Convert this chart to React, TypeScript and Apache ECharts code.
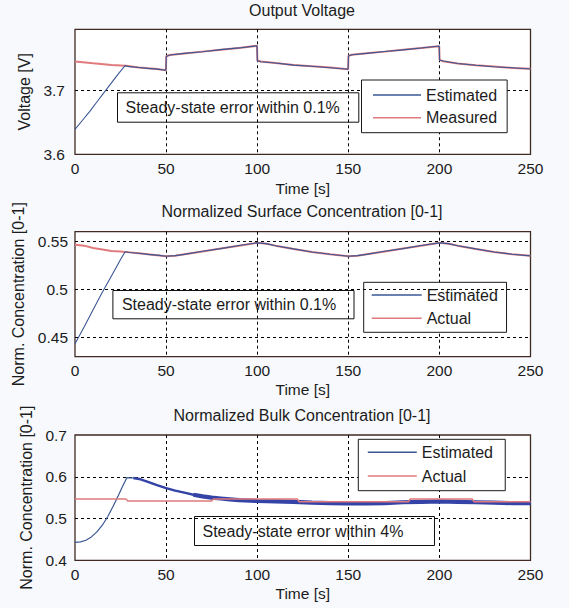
import React, { useEffect, useRef } from 'react';
import * as echarts from 'echarts';

// ---------- data ----------
const timeTicks = [0, 50, 100, 150, 200, 250];

const voltageTicks = [3.6, 3.7];
const surfaceTicks = [0.45, 0.5, 0.55];
const bulkTicks = [0.4, 0.5, 0.6, 0.7];

const voltageMeasured: [number, number][] = [
  [0, 3.7455], [10, 3.7428], [20, 3.7402], [28, 3.7388], [35, 3.7362], [40, 3.7350], [45, 3.7336], [49.9, 3.7318],
  [50.1, 3.7538], [52, 3.7556], [60, 3.7580], [70, 3.7610], [80, 3.7640], [90, 3.7668], [99.9, 3.7702],
  [100.1, 3.7470], [102, 3.7455], [110, 3.7430], [120, 3.7400], [130, 3.7380], [140, 3.7360], [149.9, 3.7335],
  [150.1, 3.7545], [152, 3.7560], [160, 3.7585], [170, 3.7610], [180, 3.7640], [190, 3.7665], [199.9, 3.7695],
  [200.1, 3.7480], [202, 3.7460], [210, 3.7425], [220, 3.7395], [230, 3.7375], [240, 3.7355], [250, 3.7340],
];

const voltageEstimated: [number, number][] = [
  [0, 3.639], [4, 3.653], [8, 3.667], [12, 3.682], [16, 3.697], [20, 3.712], [24, 3.727], [27.5, 3.739],
  [30, 3.7374], [35, 3.7362], [40, 3.7348], [45, 3.7336], [49.9, 3.7318],
  [50.1, 3.7535], [52, 3.7557], [60, 3.7582], [70, 3.7608], [80, 3.7641], [90, 3.7668], [99.9, 3.7702],
  [100.1, 3.7468], [102, 3.7452], [110, 3.7432], [120, 3.7398], [130, 3.7381], [140, 3.7358], [149.9, 3.7334],
  [150.1, 3.7543], [152, 3.7562], [160, 3.7583], [170, 3.7612], [180, 3.7638], [190, 3.7667], [199.9, 3.7697],
  [200.1, 3.7478], [202, 3.7462], [210, 3.7423], [220, 3.7397], [230, 3.7373], [240, 3.7356], [250, 3.7338],
];

const surfaceActual: [number, number][] = [
  [0, 0.5465], [5, 0.5455], [10, 0.5430], [15, 0.5415], [20, 0.5400], [25, 0.5395], [30, 0.5385], [35, 0.5375],
  [40, 0.5365], [45, 0.5355], [50, 0.5345], [55, 0.5350], [60, 0.5365], [70, 0.5395], [80, 0.5425], [90, 0.5455],
  [100, 0.5485], [105, 0.5475], [110, 0.5455], [120, 0.5420], [130, 0.5390], [140, 0.5365], [150, 0.5345],
  [155, 0.5350], [160, 0.5365], [170, 0.5395], [180, 0.5425], [190, 0.5455], [200, 0.5485], [205, 0.5475],
  [210, 0.5455], [220, 0.5420], [230, 0.5390], [240, 0.5365], [250, 0.5350],
];

const surfaceEstimated: [number, number][] = [
  [0, 0.4435], [5, 0.461], [10, 0.479], [15, 0.497], [20, 0.514], [25, 0.531], [27.5, 0.5392],
  [30, 0.5384], [35, 0.5376], [40, 0.5364], [45, 0.5356], [50, 0.5344], [55, 0.5351], [60, 0.5364],
  [70, 0.5396], [80, 0.5424], [90, 0.5456], [100, 0.5484], [105, 0.5476], [110, 0.5454], [120, 0.5421],
  [130, 0.5389], [140, 0.5366], [150, 0.5344], [155, 0.5351], [160, 0.5364], [170, 0.5396], [180, 0.5424],
  [190, 0.5456], [200, 0.5484], [205, 0.5476], [210, 0.5454], [220, 0.5421], [230, 0.5389], [240, 0.5366],
  [250, 0.5349],
];

const bulkActual: [number, number][] = [
  [0, 0.547], [28, 0.547], [29, 0.542], [75, 0.542], [76, 0.547], [122, 0.547], [123, 0.540],
  [183, 0.540], [184, 0.547], [218, 0.547], [219, 0.540], [250, 0.540],
];

const bulkEstimated: [number, number][] = [
  [0, 0.443], [3, 0.444], [6, 0.448], [9, 0.456], [12, 0.468], [15, 0.484], [18, 0.505], [21, 0.530],
  [24, 0.557], [26, 0.576], [28.5, 0.598], [32, 0.597], [36, 0.594], [40, 0.588], [45, 0.580], [50, 0.573],
  [55, 0.567], [60, 0.562], [65, 0.557], [70, 0.553], [75, 0.550], [80, 0.548], [85, 0.546], [90, 0.544],
  [100, 0.542], [110, 0.541], [120, 0.540], [130, 0.538], [140, 0.537], [150, 0.536], [160, 0.536],
  [170, 0.537], [180, 0.539], [190, 0.540], [200, 0.541], [210, 0.540], [220, 0.539], [230, 0.538],
  [240, 0.537], [250, 0.537],
];

// ---------- styling ----------
const FONT = '"Liberation Sans", Arial, Helvetica, sans-serif';
const TXT = '#1c1c1c';
const BLUE = '#3a5794';
const BAND = '#3443a6';
const PINK = '#e07a7c';
const BORDER = '#3f2a24';

const grids = [
  { left: 75, top: 29.3, width: 455.5, height: 125 },
  { left: 75, top: 231.7, width: 455.5, height: 125 },
  { left: 75, top: 435, width: 455.5, height: 125.3 },
];

const labelOnly = (vals: number[]) => (v: number) => {
  const m = vals.find((x) => Math.abs(x - v) < 1e-6);
  return m === undefined ? '' : String(m);
};

export default function App() {
  const ref = useRef<HTMLDivElement>(null);

  useEffect(() => {
    document.body.style.margin = '0';
    document.body.style.background = '#f7f9fc';
    if (!ref.current) return;
    const chart = echarts.init(ref.current, undefined, { renderer: 'svg' });

    const xAxis = (gi: number) => ({
      type: 'value',
      gridIndex: gi,
      min: timeTicks[0],
      max: timeTicks[timeTicks.length - 1],
      interval: 50,
      name: 'Time [s]',
      nameLocation: 'middle',
      nameGap: gi === 0 ? 26 : 25,
      nameTextStyle: { fontSize: 15.5, color: TXT, fontFamily: FONT },
      axisLine: { show: false },
      axisTick: { show: false },
      axisLabel: { margin: 6, fontSize: 15.5, color: TXT, fontFamily: FONT },
      splitLine: {
        show: true,
        showMinLine: false,
        showMaxLine: false,
        lineStyle: { color: '#000', type: [3, 3], width: 1 },
      },
    });

    const yName = { fontSize: 16, color: TXT, fontFamily: FONT };
    const titleStyle = { fontSize: 16, fontWeight: 'normal', color: TXT, fontFamily: FONT, lineHeight: 16 };
    const legendBase = {
      orient: 'vertical', icon: 'rect', itemHeight: 1.6, selectedMode: false,
      borderColor: '#1a1a1a', borderWidth: 1, backgroundColor: '#fff',
      textStyle: { fontSize: 16, color: TXT, fontFamily: FONT, lineHeight: 16 },
    };

    const option: any = {
      animation: false,
      backgroundColor: '#f7f9fc',
      title: [
        { text: 'Output Voltage', left: 302, top: 2, textAlign: 'center', padding: 0, textStyle: titleStyle },
        { text: 'Normalized Surface Concentration [0-1]', left: 302, top: 203.5, textAlign: 'center', padding: 0, textStyle: titleStyle },
        { text: 'Normalized Bulk Concentration [0-1]', left: 302, top: 407, textAlign: 'center', padding: 0, textStyle: titleStyle },
      ],
      grid: grids.map((g) => ({
        ...g,
        show: true,
        backgroundColor: '#ffffff',
        borderColor: BORDER,
        borderWidth: 1.3,
        containLabel: false,
      })),
      xAxis: [xAxis(0), xAxis(1), xAxis(2)],
      yAxis: [
        {
          type: 'value', gridIndex: 0, min: 3.6, max: 3.796, interval: 0.1,
          name: 'Voltage [V]', nameLocation: 'middle', nameGap: 38.5, nameRotate: 90, nameTextStyle: yName,
          axisLine: { show: false }, axisTick: { show: false },
          axisLabel: { margin: 10, fontSize: 15.5, color: TXT, fontFamily: FONT, formatter: labelOnly(voltageTicks) },
          splitLine: { show: true, showMinLine: false, showMaxLine: false, lineStyle: { color: '#000', type: [3, 3], width: 1 } },
        },
        {
          type: 'value', gridIndex: 1, min: 0.43, max: 0.56, interval: 0.01,
          name: 'Norm. Concentration [0-1]', nameLocation: 'middle', nameGap: 46, nameRotate: 90, nameTextStyle: yName,
          axisLine: { show: false }, axisTick: { show: false },
          axisLabel: { margin: 7, fontSize: 15.5, color: TXT, fontFamily: FONT, formatter: labelOnly(surfaceTicks) },
          splitLine: { show: false },
        },
        {
          type: 'value', gridIndex: 2, min: 0.4, max: 0.7, interval: 0.1,
          name: 'Norm. Concentration [0-1]', nameLocation: 'middle', nameGap: 40, nameRotate: 90, nameTextStyle: yName,
          axisLine: { show: false }, axisTick: { show: false },
          axisLabel: { margin: 8, fontSize: 15.5, color: TXT, fontFamily: FONT, formatter: labelOnly(bulkTicks) },
          splitLine: { show: true, showMinLine: false, showMaxLine: false, lineStyle: { color: '#000', type: [3, 3], width: 1 } },
        },
      ],
      legend: [
        { ...legendBase, data: ['Estimated', 'Measured'], left: 361.5, top: 80,
          itemWidth: 48, itemGap: 6.7, padding: [7, 10, 7, 11.5] },
        { ...legendBase, data: ['Estimated', 'Actual'], left: 363.7, top: 282.3,
          itemWidth: 50, itemGap: 7.3, padding: [4.7, 8.7, 6, 8] },
        { ...legendBase, data: ['Estimated', 'Actual'], left: 358.3, top: 439.3,
          itemWidth: 49, itemGap: 7.7, padding: [5, 12.3, 6.7, 9.5] },
      ],
      series: [
        // plot 1
        { name: 'Measured', type: 'line', xAxisIndex: 0, yAxisIndex: 0, data: voltageMeasured, symbol: 'none',
          lineStyle: { color: PINK, width: 2 }, itemStyle: { color: PINK }, z: 2 },
        { name: 'Estimated', type: 'line', xAxisIndex: 0, yAxisIndex: 0, data: voltageEstimated, symbol: 'none',
          lineStyle: { color: BLUE, width: 1.1 }, itemStyle: { color: BLUE }, z: 3 },
        // plot 2
        { name: 'Actual', type: 'line', xAxisIndex: 1, yAxisIndex: 1, data: surfaceActual, symbol: 'none',
          lineStyle: { color: PINK, width: 2 }, itemStyle: { color: PINK }, z: 2,
          markLine: {
            silent: true, symbol: 'none', label: { show: false },
            lineStyle: { color: '#000', type: [3, 3], width: 1 },
            data: surfaceTicks.map((v) => ({ yAxis: v })),
          } },
        { name: 'Estimated', type: 'line', xAxisIndex: 1, yAxisIndex: 1, data: surfaceEstimated, symbol: 'none',
          lineStyle: { color: BLUE, width: 1.1 }, itemStyle: { color: BLUE }, z: 3 },
        // plot 3
        { name: 'Estimated', type: 'line', xAxisIndex: 2, yAxisIndex: 2, data: bulkEstimated, symbol: 'none',
          lineStyle: { color: BLUE, width: 1.2 }, itemStyle: { color: BLUE }, z: 2 },
        { name: 'Estimated', type: 'line', xAxisIndex: 2, yAxisIndex: 2, data: bulkEstimated.filter((d) => d[0] >= 32),
          symbol: 'none', lineStyle: { color: BAND, width: 2.4 }, itemStyle: { color: BAND }, z: 2 },
        { name: 'Estimated', type: 'line', xAxisIndex: 2, yAxisIndex: 2, data: bulkEstimated.filter((d) => d[0] >= 65),
          symbol: 'none', lineStyle: { color: BAND, width: 4.2 }, itemStyle: { color: BAND }, z: 2 },
        { name: 'Actual', type: 'line', xAxisIndex: 2, yAxisIndex: 2, data: bulkActual, symbol: 'none',
          lineStyle: { color: PINK, width: 1.5 }, itemStyle: { color: PINK }, z: 3 },
      ],
      graphic: [
        {
          type: 'group', left: 117, top: 92.3, z: 10,
          children: [
            { type: 'rect', shape: { x: 0, y: 0, width: 241.3, height: 29.4 }, style: { fill: '#fff', stroke: '#111', lineWidth: 1 } },
            { type: 'text', x: 8, y: 14.7, style: { text: 'Steady-state error within 0.1%', fontSize: 16, fontFamily: FONT, fill: TXT, verticalAlign: 'middle' } },
          ],
        },
        {
          type: 'group', left: 112.4, top: 290, z: 10,
          children: [
            { type: 'rect', shape: { x: 0, y: 0, width: 241.1, height: 28.3 }, style: { fill: '#fff', stroke: '#111', lineWidth: 1 } },
            { type: 'text', x: 9, y: 14.2, style: { text: 'Steady-state error within 0.1%', fontSize: 16, fontFamily: FONT, fill: TXT, verticalAlign: 'middle' } },
          ],
        },
        {
          type: 'group', left: 194, top: 516, z: 10,
          children: [
            { type: 'rect', shape: { x: 0, y: 0, width: 240, height: 29 }, style: { fill: '#fff', stroke: '#111', lineWidth: 1 } },
            { type: 'text', x: 8, y: 14.5, style: { text: 'Steady-state error within 4%', fontSize: 16, fontFamily: FONT, fill: TXT, verticalAlign: 'middle' } },
          ],
        },
      ],
    };

    chart.setOption(option);
    return () => chart.dispose();
  }, []);

  return <div ref={ref} style={{ position: 'absolute', left: 0, top: 0, width: 569, height: 608 }} />;
}
